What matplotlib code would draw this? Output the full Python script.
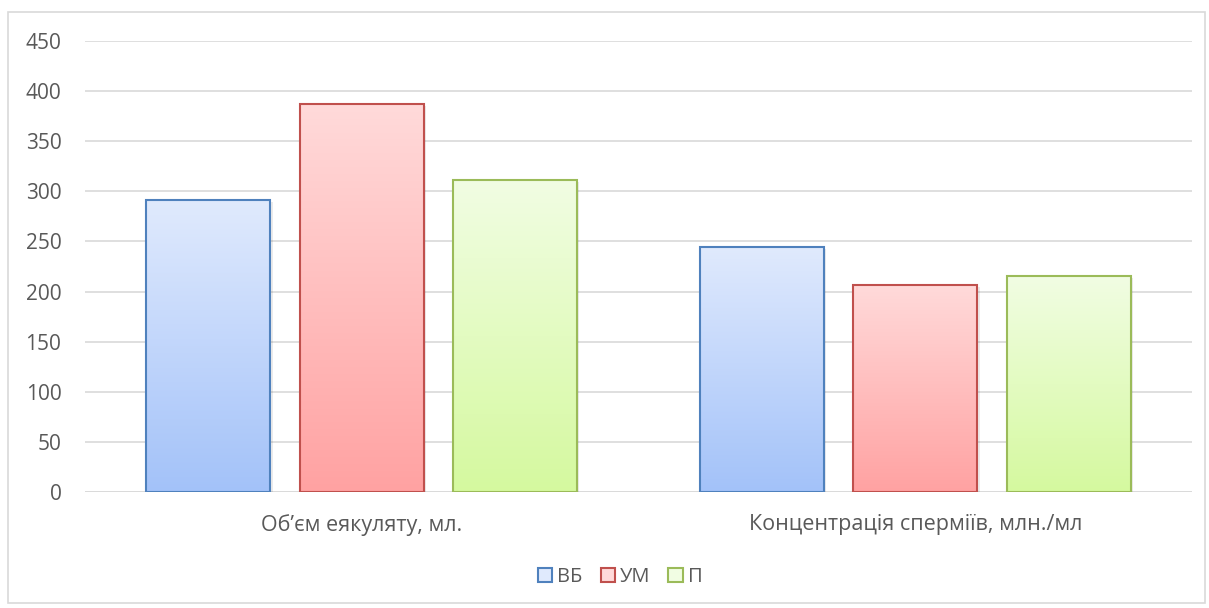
import numpy as np
import matplotlib.pyplot as plt
from matplotlib.colors import LinearSegmentedColormap
from matplotlib.patches import Rectangle, Patch

plt.rcParams['font.family'] = ['Open Sans', 'DejaVu Sans']

categories = ['Об’єм еякуляту, мл.', 'Концентрація сперміїв, млн./мл']
series_names = ['ВБ', 'УМ', 'П']
values_vb = [291, 244.5]
values_um = [387, 207]
values_p = [311, 215.5]

edge_colors = ['#4f81bd', '#c0504d', '#9bbb59']
top_colors = ['#e0eafd', '#ffdada', '#f1fde3']
bottom_colors = ['#a3c2f9', '#ffa2a2', '#d5f99f']

fig = plt.figure(figsize=(12.09, 6.08), dpi=100)
ax = fig.add_axes([0.0703, 0.1908, 0.9157, 0.7418])

# chart frame
fig.patches.append(Rectangle((0.007, 0.008), 0.99, 0.972, transform=fig.transFigure,
                             fill=False, edgecolor='#d9d9d9', linewidth=1.2))

x = np.arange(len(categories))
width = 0.224
step = 0.277
series = [values_vb, values_um, values_p]

for i, vals in enumerate(series):
    cmap = LinearSegmentedColormap.from_list('g%d' % i, [bottom_colors[i], top_colors[i]])
    for j, v in enumerate(vals):
        left = x[j] + (i - 1) * step - width / 2
        # soft shadow
        ax.add_patch(Rectangle((left + 0.004, 0), width, v - 2, facecolor='#000000',
                               alpha=0.08, edgecolor='none', zorder=2))
        bar = Rectangle((left, 0), width, v, facecolor='none',
                        edgecolor=edge_colors[i], linewidth=1.5, zorder=4)
        ax.add_patch(bar)
        grad = np.linspace(0, 1, 256).reshape(-1, 1)
        im = ax.imshow(grad, cmap=cmap, origin='lower', aspect='auto',
                       extent=(left, left + width, 0, v), zorder=3)
        im.set_clip_path(bar)

ax.set_xlim(-0.5, 1.5)
ax.set_ylim(0, 450)
ax.set_yticks(range(0, 451, 50))
ax.set_xticks(x)
ax.set_xticklabels(categories)
ax.tick_params(axis='both', length=0, labelsize=15, labelcolor='#595959')
ax.tick_params(axis='x', labelsize=15.5, pad=16)
ax.tick_params(axis='y', pad=17)
ax.yaxis.grid(True, color='#d9d9d9', linewidth=1.2)
ax.set_axisbelow(True)
for s in ax.spines.values():
    s.set_visible(False)
ax.axhline(0, color='#d9d9d9', linewidth=1.2, zorder=1)

handles = [Patch(facecolor=top_colors[i], edgecolor=edge_colors[i], linewidth=1.5)
           for i in range(3)]
fig.legend(handles, series_names, loc='center', bbox_to_anchor=(0.513, 0.051), ncol=3,
           frameon=False, fontsize=14.5, labelcolor='#595959', handlelength=0.7,
           handleheight=0.7, handletextpad=0.25, columnspacing=0.9)

fig.savefig('out.png', dpi=100)
